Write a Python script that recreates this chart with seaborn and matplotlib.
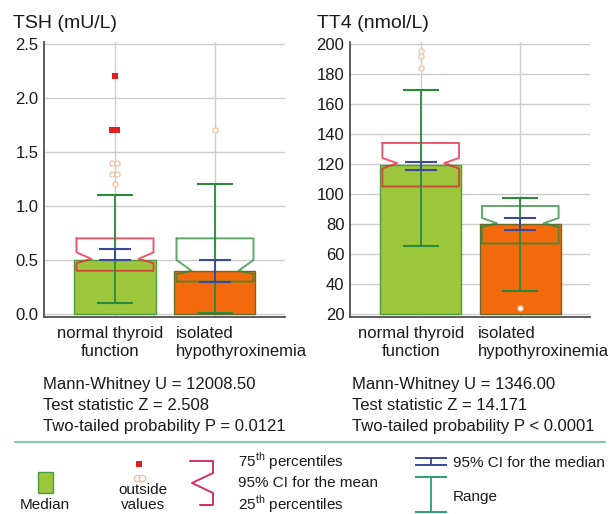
import numpy as np
import pandas as pd
import matplotlib
matplotlib.use("Agg")
import matplotlib.pyplot as plt
import matplotlib.transforms as mtransforms
from matplotlib.ticker import MultipleLocator
import seaborn as sns

# DATA

groups = ["normal thyroid\nfunction", "isolated\nhypothyroxinemia"]

tsh_median = [0.5, 0.4]
tsh_q1 = [0.4, 0.3]
tsh_q3 = [0.7, 0.7]
tsh_mean = [0.51, 0.40]
tsh_mean_lo = [0.47, 0.37]
tsh_mean_hi = [0.57, 0.50]
tsh_med_ci_lo = [0.5, 0.3]
tsh_med_ci_hi = [0.6, 0.5]
tsh_min = [0.1, 0.01]
tsh_max = [1.1, 1.2]
tsh_far_out = [[2.2, 1.7, 1.7], []]
tsh_out = [[1.4, 1.4, 1.3, 1.3, 1.2], [1.7]]

tt4_median = [119, 80]
tt4_q1 = [105, 67]
tt4_q3 = [134, 92]
tt4_mean = [120.5, 80.5]
tt4_mean_lo = [117, 78]
tt4_mean_hi = [124, 84]
tt4_med_ci_lo = [116, 76]
tt4_med_ci_hi = [121, 84]
tt4_min = [65, 35]
tt4_max = [169, 97]
tt4_far_out = [[], []]
tt4_out = [[195, 192, 184], [24]]

tsh_stats = ["Mann-Whitney U = 12008.50",
             "Test statistic Z = 2.508",
             "Two-tailed probability P = 0.0121"]
tt4_stats = ["Mann-Whitney U = 1346.00",
             "Test statistic Z = 14.171",
             "Two-tailed probability P < 0.0001"]

# STYLE

sns.set_style("white")
plt.rcParams["font.family"] = ["Liberation Sans", "DejaVu Sans"]
plt.rcParams["mathtext.fontset"] = "custom"
plt.rcParams["mathtext.rm"] = "Liberation Sans"

bar_colors = ["#9cc63c", "#f26a0c"]
bar_edges = ["#4f9a3a", "#6a6a2a"]
box_colors = ["#e8203c", "#2a8a3a"]
ci_color = "#3a4a9a"
range_color = "#2a8a3a"
far_color = "#e02020"
out_color = "#f0c0a0"
text_color = "#1a1a1a"


def spread(values, step=0.05):
    # side by side positions for repeated values
    xs = []
    counts = pd.Series(values).value_counts()
    seen = {}
    for v in values:
        n = counts[v]
        k = seen.get(v, 0)
        seen[v] = k + 1
        xs.append((k - (n - 1) / 2) * step)
    return xs


def draw_panel(ax, median, q1, q3, mean, mlo, mhi, cilo, cihi, vmin, vmax,
               far, out, baseline):
    df = pd.DataFrame({"group": groups, "median": median})
    sns.barplot(data=df, x="group", y="median", hue="group",
                palette=bar_colors, saturation=1, legend=False, errorbar=None,
                width=0.81, linewidth=1, ax=ax)
    for p, ec in zip(ax.patches, bar_edges):
        h = p.get_height()
        p.set_y(baseline)
        p.set_height(h - baseline)
        p.set_edgecolor(ec)
        p.set_zorder(2)

    hw = 0.385
    inset = 0.15
    for i in range(len(groups)):
        xs = [i - hw, i + hw, i + hw, i + hw - inset, i + hw, i + hw,
              i - hw, i - hw, i - hw + inset, i - hw, i - hw]
        ys = [q3[i], q3[i], mhi[i], mean[i], mlo[i], q1[i],
              q1[i], mlo[i], mean[i], mhi[i], q3[i]]
        ax.plot(xs, ys, color=box_colors[i], lw=1.4, alpha=0.75, zorder=4)

        # range
        ax.plot([i, i], [vmin[i], vmax[i]], color=range_color, lw=1.3, zorder=5)
        ax.hlines([vmin[i], vmax[i]], i - 0.18, i + 0.18,
                  color=range_color, lw=1.5, zorder=5)

        # 95% CI for the median
        ax.plot([i, i], [cilo[i], cihi[i]], color=ci_color, lw=1.3, zorder=6)
        ax.hlines([cilo[i], cihi[i]], i - 0.16, i + 0.16,
                  color=ci_color, lw=1.5, zorder=6)

        if far[i]:
            ax.scatter(np.array(spread(far[i])) + i, far[i], marker="s", s=20,
                       color=far_color, linewidths=0, zorder=7)
        if out[i]:
            ax.scatter(np.array(spread(out[i])) + i, out[i], marker="o", s=14,
                       facecolor="white", edgecolor=out_color, linewidths=0.9,
                       zorder=7)

    ax.set_xlim(-0.71, 1.70)
    ax.set_xlabel("")
    ax.set_ylabel("")
    ax.set_axisbelow(True)
    ax.grid(True, color="#cdcdcd", lw=1)
    for s in ["top", "right"]:
        ax.spines[s].set_visible(False)
    for s in ["left", "bottom"]:
        ax.spines[s].set_color("#505050")
        ax.spines[s].set_linewidth(1.3)
    ax.tick_params(axis="y", direction="in", length=5, pad=4,
                   labelsize=12, colors="#505050", labelcolor=text_color)
    ax.tick_params(axis="x", direction="out", length=3, pad=4,
                   labelsize=12, colors="#505050", labelcolor=text_color)


fig = plt.figure(figsize=(6.1, 5.14), dpi=100)

ax1 = fig.add_axes([44 / 610, (514 - 316.7) / 514, 241 / 610, 275 / 514])
ax2 = fig.add_axes([350 / 610, (514 - 316.7) / 514, 240 / 610, 275 / 514])

# TSH PANEL

draw_panel(ax1, tsh_median, tsh_q1, tsh_q3, tsh_mean, tsh_mean_lo, tsh_mean_hi,
           tsh_med_ci_lo, tsh_med_ci_hi, tsh_min, tsh_max,
           tsh_far_out, tsh_out, 0)
ax1.set_ylim(-0.025, 2.52)
ax1.set_yticks(np.arange(0, 2.51, 0.5))
ax1.set_yticklabels([f"{v:.1f}" for v in np.arange(0, 2.51, 0.5)])

# TT4 PANEL

draw_panel(ax2, tt4_median, tt4_q1, tt4_q3, tt4_mean, tt4_mean_lo, tt4_mean_hi,
           tt4_med_ci_lo, tt4_med_ci_hi, tt4_min, tt4_max,
           tt4_far_out, tt4_out, 20)
ax2.set_ylim(18.2, 201.5)
ax2.set_yticks(np.arange(20, 201, 20))
ax2.yaxis.set_minor_locator(MultipleLocator(10))
ax2.tick_params(axis="y", which="minor", direction="in", length=3,
                colors="#505050")

# x tick label placement
for ax, shifts in [(ax1, (-5, -39)), (ax2, (-10, -42))]:
    ax.set_xticks(range(len(groups)))
    ax.set_xticklabels(groups)
    labels = ax.get_xticklabels()
    labels[0].set_ha("center")
    labels[0].set_multialignment("center")
    labels[1].set_ha("left")
    labels[1].set_multialignment("left")
    for lab, dx in zip(labels, shifts):
        lab.set_transform(lab.get_transform() +
                          mtransforms.ScaledTranslation(dx / 100, 0, fig.dpi_scale_trans))

# titles
fig.text(13 / 610, 1 - 23 / 514, "TSH (mU/L)", fontsize=14, va="center",
         color=text_color)
fig.text(317 / 610, 1 - 23 / 514, "TT4 (nmol/L)", fontsize=14, va="center",
         color=text_color)

# LEGEND AND STATS (pixel space overlay)

lax = fig.add_axes([0, 0, 1, 1], zorder=-1)
lax.set_xlim(0, 610)
lax.set_ylim(514, 0)
lax.axis("off")

for x0, lines in [(43, tsh_stats), (352, tt4_stats)]:
    for k, line in enumerate(lines):
        lax.text(x0, 384 + 21 * k, line, fontsize=12, va="center",
                 color=text_color)

lax.plot([15, 605], [442, 442], color="#8cc4b4", lw=1.6)

lax.add_patch(plt.Rectangle((38, 472), 15, 21, facecolor=bar_colors[0],
                            edgecolor=bar_edges[0], lw=1))
lax.text(45, 505, "Median", fontsize=11, ha="center", va="center",
         color=text_color)

lax.plot([139], [464], marker="s", ms=5, color=far_color, mew=0)
lax.plot([136.5, 141.5], [478, 478], ls="none", marker="o", ms=4.5,
         mfc="white", mec=out_color, mew=1)
lax.text(143, 490, "outside", fontsize=11, ha="center", va="center",
         color=text_color)
lax.text(143, 505, "values", fontsize=11, ha="center", va="center",
         color=text_color)

lax.plot([190, 213, 213, 192, 213, 213, 200], [461, 461, 473, 483, 493, 505, 505],
         color="#d0306a", lw=1.4)
lax.text(238, 461, r"75$^{\mathrm{th}}$ percentiles", fontsize=11, va="center",
         color=text_color)
lax.text(238, 483, "95% CI for the mean", fontsize=11, va="center",
         color=text_color)
lax.text(238, 504, r"25$^{\mathrm{th}}$ percentiles", fontsize=11, va="center",
         color=text_color)

lax.hlines([458, 465], 415, 447, color=ci_color, lw=1.4)
lax.plot([431, 431], [458, 465], color=ci_color, lw=1.3)
lax.text(453, 463, "95% CI for the median", fontsize=11, va="center",
         color=text_color)

lax.hlines([477, 512], 415, 447, color="#2aa070", lw=1.4)
lax.plot([431, 431], [477, 512], color="#2aa070", lw=1.3)
lax.text(453, 497, "Range", fontsize=11, va="center", color=text_color)

fig.savefig("out.png", dpi=100)
